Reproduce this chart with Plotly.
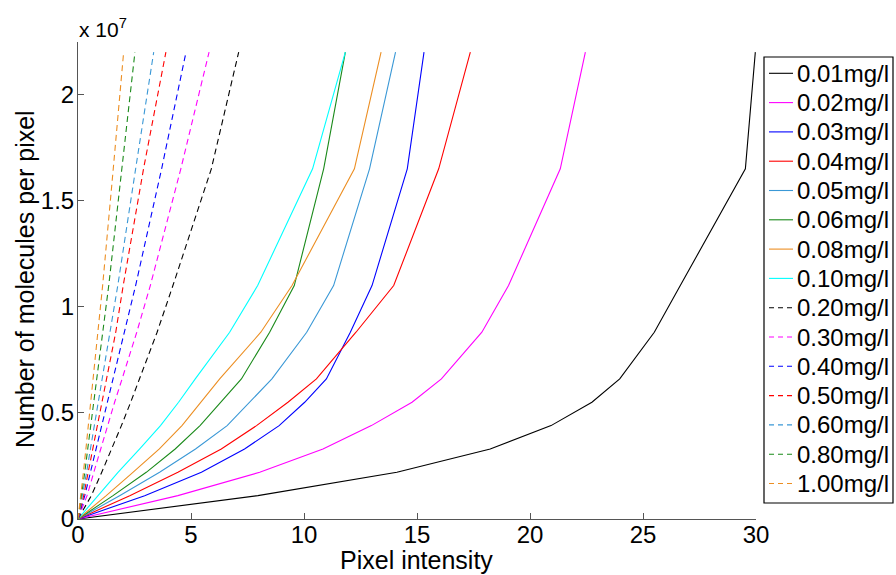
import plotly.graph_objects as go

# Molecule counts per pixel (x 1e7) at which pixel intensity was evaluated
molecules_e7 = [0, 0.11, 0.22, 0.33, 0.44, 0.55, 0.66, 0.88, 1.10, 1.65, 2.20]

concentrations = ["0.01mg/l", "0.02mg/l", "0.03mg/l", "0.04mg/l", "0.05mg/l",
                  "0.06mg/l", "0.08mg/l", "0.10mg/l", "0.20mg/l", "0.30mg/l",
                  "0.40mg/l", "0.50mg/l", "0.60mg/l", "0.80mg/l", "1.00mg/l"]

# Pixel intensity for each concentration at the molecule counts above
int_001 = [0, 7.96, 14.11, 18.24, 20.93, 22.74, 23.97, 25.50, 26.65, 29.53, 29.97]
int_002 = [0, 4.42, 8.04, 10.84, 12.98, 14.78, 16.08, 17.87, 19.05, 21.34, 22.45]
int_003 = [0, 2.95, 5.46, 7.37, 8.90, 10.03, 10.99, 12.05, 13.01, 14.57, 15.31]
int_004 = [0, 2.29, 4.42, 6.34, 7.90, 9.29, 10.55, 12.30, 13.97, 15.96, 17.36]
int_005 = [0, 1.84, 3.61, 5.20, 6.60, 7.60, 8.58, 10.12, 11.31, 12.90, 14.05]
int_006 = [0, 1.55, 3.02, 4.30, 5.40, 6.30, 7.23, 8.48, 9.57, 10.87, 11.83]
int_008 = [0, 1.25, 2.43, 3.60, 4.60, 5.45, 6.27, 8.09, 9.47, 12.23, 13.41]
int_010 = [0, 0.88, 1.77, 2.73, 3.65, 4.45, 5.19, 6.71, 7.95, 10.38, 11.83]
int_020 = [0, 0.59, 1.05, 1.50, 1.92, 2.33, 2.72, 3.50, 4.20, 5.90, 7.11]
int_030 = [0, 0.40, 0.70, 1.00, 1.30, 1.62, 1.95, 2.60, 3.20, 4.55, 5.80]
int_040 = [0, 0.30, 0.55, 0.80, 1.03, 1.27, 1.52, 2.05, 2.55, 3.70, 4.78]
int_050 = [0, 0.25, 0.45, 0.65, 0.85, 1.05, 1.25, 1.67, 2.00, 2.90, 3.89]
int_060 = [0, 0.20, 0.38, 0.55, 0.72, 0.89, 1.06, 1.42, 1.76, 2.55, 3.35]
int_080 = [0, 0.16, 0.30, 0.43, 0.56, 0.69, 0.82, 1.10, 1.36, 1.94, 2.52]
int_100 = [0, 0.13, 0.24, 0.35, 0.46, 0.56, 0.66, 0.88, 1.09, 1.56, 2.02]

intensities = [int_001, int_002, int_003, int_004, int_005, int_006, int_008,
               int_010, int_020, int_030, int_040, int_050, int_060, int_080,
               int_100]

palette = ["#000000", "#ff00ff", "#0000ff", "#ff0000", "#3a98d6", "#1a8a1a",
           "#ec8e22", "#00ffff"]
colors = palette + palette[:7]
dashes = ["solid"] * 8 + ["6px,4px"] * 7
legend_dashes = ["solid"] * 8 + ["5px,4px"] * 7

y_ticks = [0, 0.5, 1, 1.5, 2]
x_ticks = [0, 5, 10, 15, 20, 25, 30]

FONT = "Liberation Sans, Arial, sans-serif"
W, H = 896, 575
ML, MR, MT, MB = 78, 140, 42, 56
PW, PH = W - ML - MR, H - MT - MB


def px_x(px):
    """Pixel column -> paper x."""
    return (px - ML) / PW


def px_y(py):
    """Pixel row -> paper y."""
    return (H - MB - py) / PH


fig = go.Figure()
for name, xs, col, dsh in zip(concentrations, intensities, colors, dashes):
    fig.add_trace(go.Scatter(
        x=xs, y=[v * 1e7 for v in molecules_e7], mode="lines", name=name,
        line=dict(color=col, width=1.1, dash=dsh), showlegend=False,
    ))

fig.update_layout(
    width=W, height=H,
    margin=dict(l=ML, r=MR, t=MT, b=MB, autoexpand=False),
    paper_bgcolor="white", plot_bgcolor="white",
    font=dict(family=FONT, size=24, color="black"),
    showlegend=False,
)

fig.update_xaxes(
    range=[0, 30], tickvals=x_ticks, ticktext=[str(t) for t in x_ticks],
    showgrid=False, zeroline=False, showline=True, linecolor="#555555",
    linewidth=1, ticks="inside", ticklen=6, tickcolor="#555555",
    tickfont=dict(size=24), mirror=False, ticklabelstandoff=-6,
)
fig.update_yaxes(
    range=[0, 2.2475e7], tickvals=[t * 1e7 for t in y_ticks],
    ticktext=[("%g" % t) for t in y_ticks],
    showgrid=False, zeroline=False, showline=True, linecolor="#555555",
    linewidth=1, ticks="inside", ticklen=6, tickcolor="#555555",
    tickfont=dict(size=24), mirror=False, ticklabelstandoff=-2,
)

# Axis titles and exponent label
fig.add_annotation(
    text="Pixel intensity", xref="paper", yref="paper", x=px_x(416),
    y=px_y(560), xanchor="center", yanchor="middle", showarrow=False,
    font=dict(size=25), borderpad=0,
)
fig.add_annotation(
    text="Number of molecules per pixel", xref="paper", yref="paper",
    x=px_x(25), y=px_y(279), xanchor="center", yanchor="middle",
    textangle=-90, showarrow=False, font=dict(size=25), borderpad=0,
)
fig.add_annotation(
    text="x 10<sup>7</sup>", xref="paper", yref="paper", x=px_x(77),
    y=px_y(43), xanchor="left", yanchor="bottom", showarrow=False,
    font=dict(size=21),
)

# Legend box with line samples and labels
LEG_L, LEG_R, LEG_T, LEG_B = 764, 893, 57, 503
fig.add_shape(
    type="rect", xref="paper", yref="paper",
    x0=px_x(LEG_L), x1=px_x(LEG_R), y0=px_y(LEG_B), y1=px_y(LEG_T),
    line=dict(color="black", width=1.2), fillcolor="white", layer="above",
)
row_top, row_step = 73.3, 29.3
for i, (name, col, dsh) in enumerate(zip(concentrations, colors, legend_dashes)):
    cy = row_top + i * row_step
    fig.add_shape(
        type="line", xref="paper", yref="paper",
        x0=px_x(769), x1=px_x(793), y0=px_y(cy), y1=px_y(cy),
        line=dict(color=col, width=1.1, dash=dsh), layer="above",
    )
    fig.add_annotation(
        text=name, xref="paper", yref="paper", x=px_x(795), y=px_y(cy),
        xanchor="left", yanchor="middle", showarrow=False,
        font=dict(size=24),
    )

fig.write_html("out.html")
